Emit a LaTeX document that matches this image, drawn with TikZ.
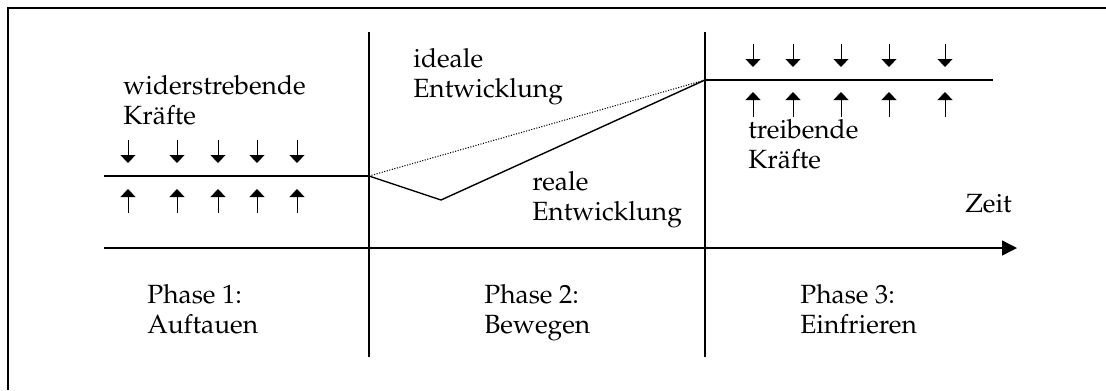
\documentclass[tikz,border=0pt]{standalone}
\usepackage[T1]{fontenc}
\usepackage{mathpazo}
\usetikzlibrary{arrows.meta}

\begin{document}
\begin{tikzpicture}[
    x=0.02cm, y=-0.02cm,
    every node/.style={font=\fontsize{15}{17}\selectfont, inner sep=0pt, align=left, anchor=base west},
    frame/.style={line width=1.2pt},
    bar/.style={line width=0.8pt},
    force/.style={line width=0.45pt, -{Triangle[length=0.16cm, width=0.3cm]}},
    axis/.style={line width=0.8pt, -{Triangle[length=0.3cm, width=0.3cm]}}
]
    \useasboundingbox (0,0) rectangle (1106,390);
    % frame
    \coordinate (fr) at (1106,8);
    \coordinate (fc) at (8,8);
    \coordinate (fb) at (8,390);
    \draw[frame] (fr) -- (fc) -- (fb);

    % phase separators
    \coordinate (s1t) at (369,32);
    \coordinate (s1b) at (369,357);
    \coordinate (s2t) at (705,32);
    \coordinate (s2b) at (705,357);
    \draw[bar] (s1t) -- (s1b);
    \draw[bar] (s2t) -- (s2b);

    % levels and development
    \coordinate (l0) at (104,176);
    \coordinate (p1) at (369,176);
    \coordinate (low) at (441,200);
    \coordinate (p2) at (705,80);
    \coordinate (r1) at (993,80);
    \draw[bar] (l0) -- (p1);
    \draw[bar] (p2) -- (r1);
    \draw[bar] (p1) -- (low) -- (p2);
    \draw[line width=0.6pt, dash pattern=on 0.6pt off 0.9pt] (p1) -- (p2);

    % time axis
    \coordinate (a0) at (104,248);
    \coordinate (a1) at (1017,248);
    \draw[axis] (a0) -- (a1);

    % forces
    \foreach \x in {128,177,218,257,297} {
        \draw[force] (\x,140) -- (\x,163);
        \draw[force] (\x,213) -- (\x,189);
    }
    \foreach \x in {753,793,841,889,945} {
        \draw[force] (\x,44) -- (\x,67);
        \draw[force] (\x,117) -- (\x,92);
    }

    % labels (anchored at the baseline of the last line)
    \node (wk)   at (123,124) {widerstrebende\\Kr\"afte};
    \node (ie)   at (413,97)  {ideale\\Entwicklung};
    \node (re)   at (532,220) {reale\\Entwicklung};
    \node (tk)   at (748,168) {treibende\\Kr\"afte};
    \node (zeit) at (965,212) {Zeit};
    \node (ph1)  at (147,333) {Phase 1:\\Auftauen};
    \node (ph2)  at (484,333) {Phase 2:\\Bewegen};
    \node (ph3)  at (800,333) {Phase 3:\\Einfrieren};
\end{tikzpicture}
\end{document}
